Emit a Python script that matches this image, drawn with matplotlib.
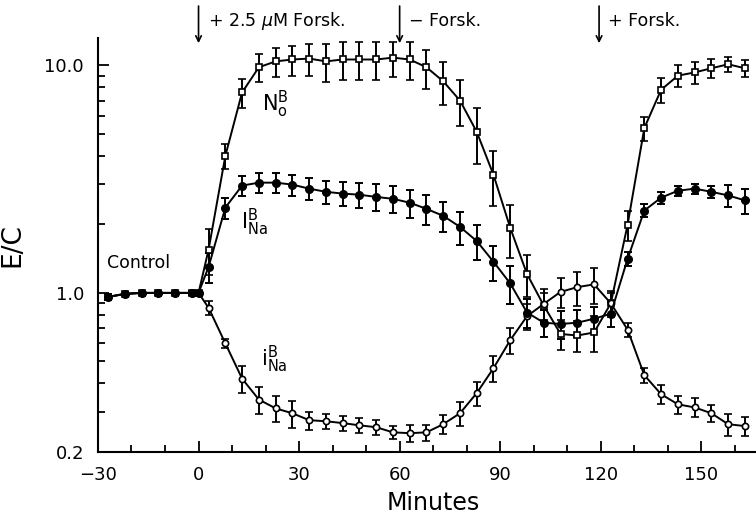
import numpy as np
import matplotlib
matplotlib.use('Agg')
import matplotlib.pyplot as plt
from matplotlib.ticker import LogLocator, FixedLocator, MultipleLocator, NullFormatter

# time points (minutes)
t_ctrl = [-27, -22, -17, -12, -7, -2, 0]
t_exp = [3, 8, 13, 18, 23, 28, 33, 38, 43, 48, 53, 58, 63, 68, 73, 78, 83, 88,
         93, 98, 103, 108, 113, 118, 123, 128, 133, 138, 143, 148, 153, 158, 163]

ctrl_val = [0.96, 0.99, 1.0, 1.0, 1.0, 1.0, 1.0]
ctrl_err = [0.03, 0.01, 0.01, 0.01, 0.01, 0.02, 0.0]

# N_o^B (open squares)
n_val = [1.55, 4.0, 7.6, 9.8, 10.4, 10.6, 10.7, 10.4, 10.6, 10.6, 10.6, 10.8, 10.6, 9.8, 8.5, 7.0, 5.1, 3.3,
         1.93, 1.21, 0.88, 0.66, 0.65, 0.67, 0.90, 1.99, 5.3, 7.8, 9.0, 9.3, 9.7, 10.1, 9.7]
n_err = [0.35, 0.5, 1.1, 1.4, 1.5, 1.6, 1.7, 2.0, 2.0, 2.0, 2.0, 1.9, 2.0, 1.9, 1.8, 1.6, 1.4, 0.9,
         0.5, 0.25, 0.12, 0.1, 0.1, 0.12, 0.1, 0.3, 0.65, 1.0, 1.0, 1.0, 0.9, 0.8, 0.8]

# I_Na^B (filled circles)
I_val = [1.3, 2.37, 2.96, 3.05, 3.05, 2.99, 2.87, 2.78, 2.73, 2.70, 2.64, 2.59, 2.49, 2.34, 2.18, 1.95, 1.69, 1.37,
         1.10, 0.82, 0.74, 0.73, 0.74, 0.77, 0.81, 1.41, 2.30, 2.62, 2.81, 2.87, 2.78, 2.68, 2.55]
I_err = [0.2, 0.25, 0.3, 0.3, 0.3, 0.32, 0.32, 0.32, 0.33, 0.33, 0.36, 0.35, 0.35, 0.36, 0.33, 0.32, 0.29, 0.24,
         0.21, 0.12, 0.1, 0.1, 0.1, 0.1, 0.1, 0.1, 0.15, 0.15, 0.15, 0.15, 0.18, 0.3, 0.32]

# i_Na^B (open circles)
i_val = [0.86, 0.60, 0.42, 0.34, 0.311, 0.296, 0.276, 0.273, 0.268, 0.262, 0.257, 0.244, 0.242, 0.244, 0.265, 0.296, 0.363, 0.467,
         0.62, 0.79, 0.895, 1.01, 1.06, 1.09, 0.90, 0.69, 0.435, 0.359, 0.324, 0.314, 0.296, 0.265, 0.26]
i_err = [0.06, 0.03, 0.055, 0.045, 0.04, 0.04, 0.025, 0.02, 0.02, 0.02, 0.02, 0.015, 0.02, 0.02, 0.025, 0.035, 0.045, 0.06,
         0.08, 0.1, 0.15, 0.15, 0.18, 0.2, 0.12, 0.05, 0.035, 0.035, 0.03, 0.03, 0.025, 0.03, 0.025]

fig = plt.figure(figsize=(7.56, 5.16), dpi=100)
ax = fig.add_axes([0.1296, 0.124, 0.869, 0.802])

ebkw = dict(color='black', lw=1.4, elinewidth=1.4, capsize=3, capthick=1.4)

ax.errorbar(t_ctrl + t_exp, ctrl_val + n_val, yerr=ctrl_err + n_err, marker='s', ms=4.5,
            mfc='white', mec='black', mew=1.2, **ebkw)
ax.errorbar(t_ctrl + t_exp, ctrl_val + i_val, yerr=ctrl_err + i_err, marker='o', ms=4.5,
            mfc='white', mec='black', mew=1.2, **ebkw)
ax.errorbar(t_ctrl + t_exp, ctrl_val + I_val, yerr=ctrl_err + I_err, marker='o', ms=5.5,
            mfc='black', mec='black', **ebkw)

ax.set_yscale('log')
ax.set_xlim(-30, 166)
ax.set_ylim(0.2, 13.15)

ax.yaxis.set_major_locator(FixedLocator([0.2, 1.0, 10.0]))
ax.set_yticklabels(['0.2', '1.0', '10.0'])
ax.yaxis.set_minor_locator(LogLocator(base=10, subs=np.arange(2, 10) * 1.0))
ax.yaxis.set_minor_formatter(NullFormatter())
ax.xaxis.set_minor_locator(MultipleLocator(10))
ax.set_xticks([-30, 0, 30, 60, 90, 120, 150])
ax.set_xticklabels(['\u221230', '0', '30', '60', '90', '120', '150'])

ax.tick_params(which='both', direction='in', width=1.3, labelsize=13)
ax.tick_params(which='major', length=8, pad=10)
ax.tick_params(which='minor', length=5)
for s in ['top', 'right']:
    ax.spines[s].set_visible(False)
for s in ['left', 'bottom']:
    ax.spines[s].set_linewidth(1.5)

ax.set_xlabel('Minutes', fontsize=17)
ax.xaxis.set_label_coords(0.51, -0.094)
ax.set_ylabel('E/C', fontsize=19)
ax.yaxis.set_label_coords(-0.111, 0.50)

ax.text(-27.2, 1.36, 'Control', fontsize=12.5, va='center', ha='left')
ax.text(19.0, 6.7, r'$\mathrm{N}_{\mathrm{o}}^{\mathrm{B}}$', fontsize=15, va='center', ha='left')
ax.text(12.8, 2.05, r'$\mathrm{I}_{\mathrm{Na}}^{\mathrm{B}}$', fontsize=15, va='center', ha='left')
ax.text(18.6, 0.51, r'$\mathrm{i}_{\mathrm{Na}}^{\mathrm{B}}$', fontsize=15, va='center', ha='left')

arrow = dict(arrowstyle='->', color='black', lw=1.2, shrinkA=0, shrinkB=0)
for xa, label in [(0, r'+ 2.5 $\mu$M Forsk.'), (60, '\u2212 Forsk.'), (119.5, '+ Forsk.')]:
    ax.annotate('', xy=(xa, 12.5), xytext=(xa, 18.2), arrowprops=arrow, annotation_clip=False)
    ax.text(xa + 2.7, 15.6, label, fontsize=12.5, va='center', ha='left', clip_on=False)

fig.savefig('out.png', dpi=100)
